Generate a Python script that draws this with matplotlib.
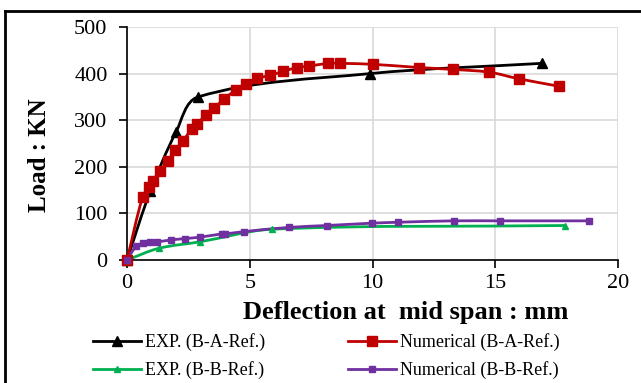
import matplotlib
matplotlib.use("Agg")
import matplotlib.pyplot as plt
from matplotlib.path import Path
from matplotlib.patches import PathPatch
from matplotlib.lines import Line2D
import numpy as np

# data (deflection in mm, load in kN)
exp_a_x = [0, 0.95, 2.0, 2.9, 9.9, 16.9]
exp_a_y = [0, 148, 275, 350, 400, 422]

num_a_x = [0, 0.64, 0.91, 1.07, 1.34, 1.66, 1.96, 2.29, 2.63, 2.84, 3.22, 3.56, 3.96,
           4.43, 4.85, 5.31, 5.82, 6.37, 6.94, 7.41, 8.2, 8.68, 10.0, 11.9, 13.27,
           14.76, 15.95, 17.58]
num_a_y = [0, 136, 157, 170, 191, 212, 235, 256, 281, 292, 311, 327, 345,
           365, 377, 390, 396, 405, 413, 416, 422, 422, 420, 413, 409,
           403, 389, 373]

exp_b_x = [0, 1.29, 2.97, 5.9, 17.86]
exp_b_y = [0, 25, 39, 66, 74]

num_b_x = [0, 0.37, 0.66, 0.94, 1.23, 1.79, 2.36, 2.97, 3.86, 4.0, 4.78, 6.61,
           8.13, 9.97, 11.05, 13.3, 15.2, 18.8]
num_b_y = [0, 29, 36, 38, 39, 43, 46, 49, 56, 56, 61, 70,
           74, 79, 81, 84, 84, 84]

labels = ["EXP. (B-A-Ref.)", "Numerical (B-A-Ref.)",
          "EXP. (B-B-Ref.)", "Numerical (B-B-Ref.)"]

plt.rcParams['font.family'] = ['Liberation Serif', 'DejaVu Serif']

fig = plt.figure(figsize=(6.41, 3.83), dpi=100)
ax = fig.add_axes([127/641, 1-260/383, (618-127)/641, (260-27)/383])
ax.set_xlim(0, 20)
ax.set_ylim(0, 500)
ax.set_xticks([0, 5, 10, 15, 20])
ax.set_yticks([0, 100, 200, 300, 400, 500])
ax.grid(True, color="#d9d9d9", linewidth=1.2)
ax.set_axisbelow(True)
for s in ["top", "right"]:
    ax.spines[s].set_visible(False)
for s in ["left", "bottom"]:
    ax.spines[s].set_linewidth(1.2)
ax.tick_params(axis="both", direction="out", length=6, width=1.2, labelsize=16)
ax.tick_params(axis="x", pad=4)
ax.tick_params(axis="y", pad=8)


def smooth_path(xs, ys):
    # smoothed line like excel: bezier through the points, handles a third of the segment
    pts = ax.transData.transform(np.column_stack([xs, ys]))
    n = len(pts)
    verts = [pts[0]]
    codes = [Path.MOVETO]
    for i in range(n - 1):
        p0 = pts[max(i - 1, 0)]
        p1 = pts[i]
        p2 = pts[i + 1]
        p3 = pts[min(i + 2, n - 1)]
        seg = np.hypot(*(p2 - p1)) / 3
        t1 = p2 - p0
        t2 = p3 - p1
        c1 = p1 + t1 / np.hypot(*t1) * seg
        c2 = p2 - t2 / np.hypot(*t2) * seg
        verts += [c1, c2, p2]
        codes += [Path.CURVE4] * 3
    verts = ax.transData.inverted().transform(np.array(verts))
    return Path(verts, codes)


series = [
    (exp_a_x, exp_a_y, "black", "^", 7, 2.0),
    (num_a_x, num_a_y, "#c00000", "s", 7.5, 2.0),
    (exp_b_x, exp_b_y, "#00b050", "^", 4.5, 2.0),
    (num_b_x, num_b_y, "#7030a0", "s", 4.5, 2.0),
]

handles = []
for (xs, ys, col, mk, ms, lw), lab in zip(series, labels):
    ax.add_patch(PathPatch(smooth_path(xs, ys), fill=False, edgecolor=col,
                           linewidth=lw, zorder=3, clip_on=False))
    ax.plot(xs, ys, linestyle="none", marker=mk, markersize=ms, color=col,
            zorder=4, clip_on=False)
    handles.append(Line2D([], [], color=col, linewidth=lw, marker=mk, markersize=ms))

fig.text(406/641, 1-313/383, "Deflection at  mid span : mm", fontsize=19,
         fontweight="bold", ha="center", va="center")
fig.text(40/641, 1-155/383, "Load : KN", fontsize=18, fontweight="bold",
         rotation=90, ha="center", va="center")

# legend fills column-wise, so order it to read row by row like the original
order = [0, 2, 1, 3]
fig.legend([handles[i] for i in order], [labels[i] for i in order],
           loc="center left", bbox_to_anchor=(93/641, 1-356/383), ncol=2,
           frameon=False, fontsize=13, handlelength=2.66, columnspacing=4.6,
           handletextpad=0.22, labelspacing=0.55, borderpad=0, borderaxespad=0)

# outer frame: only the top and left edges show in the crop
top = 1 - 11/383
left = 5/641
fig.add_artist(Line2D([left, 1], [top, top], color="black", linewidth=2,
                      transform=fig.transFigure))
fig.add_artist(Line2D([left, left], [0, top], color="black", linewidth=2,
                      transform=fig.transFigure))

fig.savefig("out.png", dpi=100)
